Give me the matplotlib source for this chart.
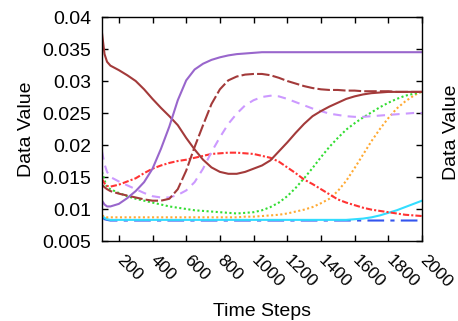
import matplotlib
matplotlib.use("Agg")
import matplotlib.pyplot as plt

plt.rcParams['font.family'] = ['Liberation Sans', 'DejaVu Sans']

steps = [100, 115, 130, 150, 200, 250, 300, 350, 400, 450, 500, 550, 600, 650, 700,
         750, 800, 850, 900, 950, 1000, 1050, 1100, 1150, 1200, 1250, 1300, 1350, 1400,
         1450, 1500, 1550, 1600, 1650, 1700, 1750, 1800, 1850, 1900, 1950, 2000]

purple_solid = [0.0113, 0.0107, 0.0104, 0.0104, 0.0108, 0.0117, 0.0128, 0.0142, 0.0163, 0.0194,
                0.0229, 0.0270, 0.0301, 0.0318, 0.0327, 0.0333, 0.0337, 0.0340, 0.0342, 0.0343,
                0.0344, 0.0345, 0.0345, 0.0345, 0.0345, 0.0345, 0.0345, 0.0345, 0.0345, 0.0345,
                0.0345, 0.0345, 0.0345, 0.0345, 0.0345, 0.0345, 0.0345, 0.0345, 0.0345, 0.0345, 0.0345]

brown_solid = [0.0375, 0.0342, 0.0330, 0.0324, 0.0317, 0.0309, 0.0300, 0.0287, 0.0272, 0.0258,
               0.0245, 0.0231, 0.0211, 0.0193, 0.0177, 0.0165, 0.0158, 0.0155, 0.0155, 0.0158,
               0.0163, 0.0168, 0.0176, 0.0190, 0.0204, 0.0219, 0.0233, 0.0245, 0.0253, 0.0260,
               0.0266, 0.0272, 0.0276, 0.0279, 0.0281, 0.0282, 0.0283, 0.0283, 0.0283, 0.0283, 0.0283]

brown_dashed = [0.0138, 0.0134, 0.0131, 0.0128, 0.0124, 0.0121, 0.0118, 0.0115, 0.0113, 0.0113,
                0.0116, 0.0131, 0.0160, 0.0197, 0.0231, 0.0264, 0.0287, 0.0301, 0.0307, 0.0310,
                0.0311, 0.0311, 0.0309, 0.0305, 0.0300, 0.0296, 0.0292, 0.0289, 0.0287, 0.0286,
                0.0286, 0.0285, 0.0285, 0.0284, 0.0284, 0.0284, 0.0284, 0.0283, 0.0283, 0.0283, 0.0283]

lavender_dashed = [0.0190, 0.0170, 0.0158, 0.0150, 0.0143, 0.0137, 0.0131, 0.0125, 0.0120, 0.0118,
                   0.0118, 0.0122, 0.0129, 0.0142, 0.0163, 0.0189, 0.0212, 0.0233, 0.0249, 0.0262,
                   0.0270, 0.0275, 0.0277, 0.0276, 0.0272, 0.0267, 0.0262, 0.0257, 0.0253, 0.0249,
                   0.0247, 0.0245, 0.0244, 0.0244, 0.0245, 0.0246, 0.0247, 0.0248, 0.0249, 0.0250, 0.0250]

red_dashdot = [0.0147, 0.0140, 0.0136, 0.0135, 0.0138, 0.0143, 0.0148, 0.0156, 0.0163, 0.0168,
               0.0172, 0.0175, 0.0177, 0.0180, 0.0183, 0.0186, 0.0187, 0.0188, 0.0188, 0.0187,
               0.0186, 0.0183, 0.0180, 0.0174, 0.0165, 0.0156, 0.0146, 0.0139, 0.0131, 0.0123,
               0.0115, 0.0110, 0.0106, 0.0102, 0.0099, 0.0097, 0.0095, 0.0093, 0.0091, 0.0090, 0.0089]

green_dotted = [0.0158, 0.0145, 0.0134, 0.0131, 0.0125, 0.0120, 0.0116, 0.0113, 0.0110, 0.0107,
                0.0104, 0.0102, 0.0100, 0.0098, 0.0097, 0.0096, 0.0095, 0.0094, 0.0093, 0.0094,
                0.0095, 0.0098, 0.0103, 0.0110, 0.0120, 0.0133, 0.0148, 0.0164, 0.0181, 0.0197,
                0.0211, 0.0224, 0.0234, 0.0243, 0.0251, 0.0259, 0.0266, 0.0272, 0.0277, 0.0280, 0.0283]

orange_dotted = [0.0090, 0.0088, 0.0087, 0.0087, 0.0087, 0.0087, 0.0087, 0.0087, 0.0087, 0.0087,
                 0.0087, 0.0087, 0.0087, 0.0087, 0.0087, 0.0087, 0.0087, 0.0087, 0.0087, 0.0088,
                 0.0088, 0.0089, 0.0090, 0.0091, 0.0093, 0.0096, 0.0099, 0.0103, 0.0109, 0.0116,
                 0.0128, 0.0144, 0.0164, 0.0185, 0.0206, 0.0225, 0.0242, 0.0257, 0.0268, 0.0277, 0.0284]

cyan_solid = [0.0090, 0.0086, 0.0084, 0.0083, 0.0083, 0.0083, 0.0083, 0.0083, 0.0083, 0.0083,
              0.0083, 0.0083, 0.0083, 0.0083, 0.0083, 0.0083, 0.0083, 0.0083, 0.0083, 0.0083,
              0.0083, 0.0083, 0.0083, 0.0083, 0.0083, 0.0083, 0.0083, 0.0083, 0.0083, 0.0083,
              0.0083, 0.0083, 0.0084, 0.0085, 0.0087, 0.0090, 0.0094, 0.0098, 0.0103, 0.0108, 0.0113]

blue_dashdot = [0.0088, 0.0084, 0.0083, 0.0082, 0.0082, 0.0082, 0.0082, 0.0082, 0.0082, 0.0082,
                0.0082, 0.0082, 0.0082, 0.0082, 0.0082, 0.0082, 0.0082, 0.0082, 0.0082, 0.0082,
                0.0082, 0.0082, 0.0082, 0.0082, 0.0082, 0.0082, 0.0082, 0.0082, 0.0082, 0.0082,
                0.0082, 0.0082, 0.0082, 0.0082, 0.0082, 0.0082, 0.0082, 0.0082, 0.0082, 0.0082, 0.0082]

x_ticks = [200, 400, 600, 800, 1000, 1200, 1400, 1600, 1800, 2000]
y_ticks = [0.005, 0.01, 0.015, 0.02, 0.025, 0.03, 0.035, 0.04]
y_tick_labels = ['0.005', '0.01', '0.015', '0.02', '0.025', '0.03', '0.035', '0.04']

series = [
    (blue_dashdot, '#3355ee', (0, (8, 3, 2, 3))),
    (cyan_solid, '#33ddff', '-'),
    (orange_dotted, '#ffaa33', (0, (1, 1.2))),
    (green_dotted, '#33dd33', (0, (1, 1.2))),
    (red_dashdot, '#ff3333', (0, (3, 1, 1, 1))),
    (lavender_dashed, '#cc99ff', (0, (4, 3))),
    (brown_dashed, '#a33a3a', (0, (6, 1.5))),
    (brown_solid, '#a33a3a', '-'),
    (purple_solid, '#9966cc', '-'),
]

fig = plt.figure(figsize=(4.58, 3.21), dpi=100)
ax = fig.add_axes([102 / 458, 80 / 321, 320 / 458, 224 / 321])

for vals, col, ls in series:
    ax.plot(steps, vals, color=col, linestyle=ls, linewidth=1.5)

ax.set_xlim(100, 2000)
ax.set_ylim(0.005, 0.04)
ax.set_xticks(x_ticks)
ax.set_xticklabels([str(v) for v in x_ticks], rotation=-45, ha='left', va='center',
                   rotation_mode='anchor', fontsize=12.5)
ax.set_yticks(y_ticks)
ax.set_yticklabels(y_tick_labels, fontsize=14)
ax.tick_params(direction='in', length=4, width=1, top=True, right=True, colors='black')
ax.tick_params(axis='y', pad=8)
ax.tick_params(axis='x', pad=12)
for s in ax.spines.values():
    s.set_linewidth(1.0)
    s.set_color('black')

ax.set_ylabel('Data Value', fontsize=14)
ax.yaxis.set_label_coords(-0.21, 0.5)
ax.set_xlabel('Time Steps', fontsize=14)
ax.xaxis.set_label_coords(0.5, -0.275)

fig.text(451 / 458, 1 - 132 / 321, 'Data Value', rotation=90, fontsize=14,
         ha='center', va='center')

fig.savefig('out.png', dpi=100)
